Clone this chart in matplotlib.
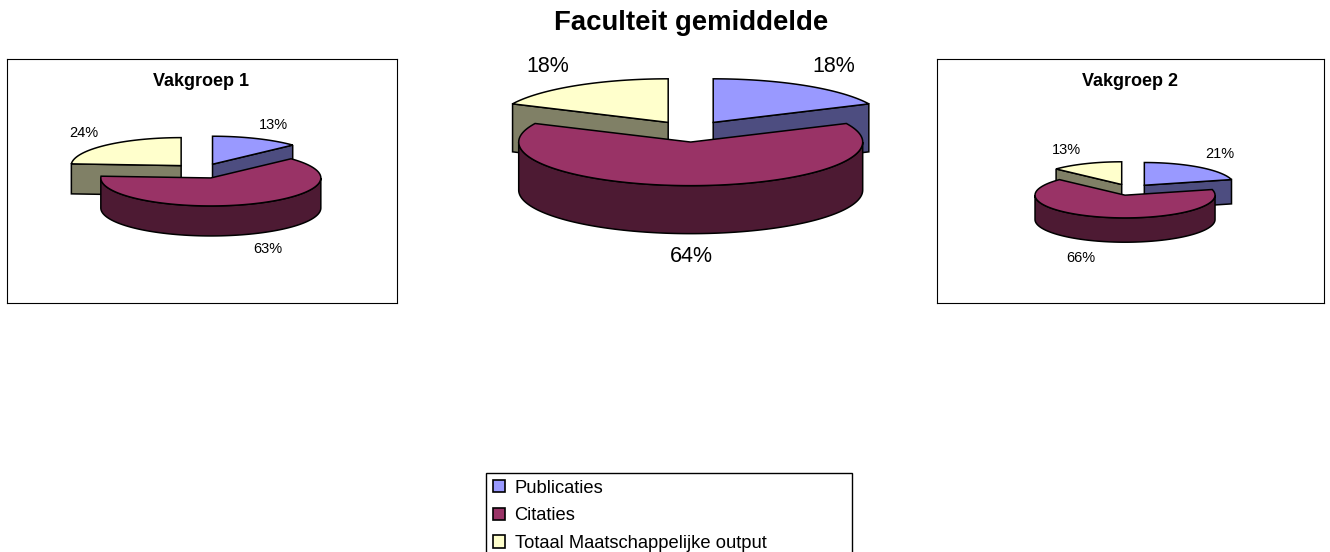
import numpy as np
import matplotlib
matplotlib.use("Agg")
import matplotlib.pyplot as plt
from matplotlib.patches import Patch, Polygon

plt.rcParams["font.family"] = ["Liberation Sans", "DejaVu Sans"]

W, H = 1330, 552

series = ["Publicaties", "Citaties", "Totaal Maatschappelijke output"]
colors = ["#9999FF", "#993366", "#FFFFCC"]
wall_colors = ["#4D4D80", "#4D1A33", "#808066"]

vakgroep1 = [13, 63, 24]
faculteit = [18, 64, 18]
vakgroep2 = [21, 66, 13]


# Map angles (clockwise from 12 o'clock) onto the flattened pie
def rim(cx, cy, r, ry, a0, a1):
    t = np.radians(np.linspace(a0, a1, max(int(abs(a1 - a0)), 2)))
    return np.column_stack([cx + r * np.sin(t), cy - ry * np.cos(t)])


def add_wall(ax, pts, depth, color):
    low = pts[::-1] + [0, depth]
    ax.add_patch(Polygon(np.vstack([pts, low]), closed=True, fc=color, ec="black", lw=1.1))


def draw_pie(ax, values, cx, cy, r, tilt, depth, explode):
    ry = r * tilt
    angles = np.concatenate([[0], np.cumsum(values)]) * 360 / sum(values)
    # Back slices first, so the big front slice lands on top of them
    order = np.argsort([-np.cos(np.radians((angles[i] + angles[i + 1]) / 2)) for i in range(len(values))])
    for i in order:
        a0, a1 = angles[i], angles[i + 1]
        mid = np.radians((a0 + a1) / 2)
        px = cx + explode * np.sin(mid)
        py = cy - explode * tilt * np.cos(mid)
        apex = np.array([[px, py]])
        edge = rim(px, py, r, ry, a0, a1)

        if np.sin(np.radians(a0)) < -1e-6:
            add_wall(ax, np.vstack([apex, edge[:1]]), depth, wall_colors[i])
        if np.sin(np.radians(a1)) > 1e-6:
            add_wall(ax, np.vstack([apex, edge[-1:]]), depth, wall_colors[i])
        lo, hi = max(a0, 90), min(a1, 270)
        if hi > lo:
            add_wall(ax, rim(px, py, r, ry, lo, hi), depth, wall_colors[i])

        ax.add_patch(Polygon(np.vstack([apex, edge]), closed=True, fc=colors[i], ec="black", lw=1.1))


def panel(x0, y0, x1, y1, framed):
    ax = fig.add_axes([x0 / W, 1 - y1 / H, (x1 - x0) / W, (y1 - y0) / H])
    ax.set_xlim(x0, x1)
    ax.set_ylim(y1, y0)
    ax.set_xticks([])
    ax.set_yticks([])
    for s in ax.spines.values():
        s.set_visible(framed)
        s.set_linewidth(0.8)
    if not framed:
        ax.patch.set_visible(False)
    return ax


def pct_labels(ax, values, positions, size):
    for v, (x, y) in zip(values, positions):
        ax.text(x, y, f"{v}%", ha="center", va="center", fontsize=size, color="black")


fig = plt.figure(figsize=(W / 100, H / 100), dpi=100)

ax1 = panel(7, 59, 397, 303, True)
draw_pie(ax1, vakgroep1, 201, 171, 110, 0.2545, 30, 29)
ax1.text(201, 81.5, "Vakgroep 1", ha="center", va="center", fontsize=13, fontweight="bold")
pct_labels(ax1, vakgroep1, [(273.5, 125), (268, 249), (84, 133)], 10.5)

ax2 = panel(470, 45, 900, 275, False)
draw_pie(ax2, faculteit, 690.7, 131.4, 172, 0.2535, 48, 42)
pct_labels(ax2, faculteit, [(834, 66), (691, 256), (548, 66)], 15.5)

ax3 = panel(937, 59, 1324, 303, True)
draw_pie(ax3, vakgroep2, 1130.6, 189.7, 90, 0.2525, 24.3, 22.4)
ax3.text(1130.5, 81.5, "Vakgroep 2", ha="center", va="center", fontsize=13, fontweight="bold")
pct_labels(ax3, vakgroep2, [(1220, 154), (1081, 258), (1066, 150)], 10.5)

fig.text(691 / W, 1 - 23 / H, "Faculteit gemiddelde", ha="center", va="center", fontsize=19.8, fontweight="bold")

handles = [Patch(facecolor=c, edgecolor="black", linewidth=1.2) for c in colors]
fig.legend(
    handles, series,
    loc="upper left",
    bbox_to_anchor=(486 / W, 1 - 473 / H, 366 / W, 0),
    mode="expand",
    borderaxespad=0,
    borderpad=0.36,
    fontsize=13.2,
    handlelength=0.65,
    handleheight=0.65,
    handletextpad=0.55,
    labelspacing=0.58,
    fancybox=False,
    framealpha=1,
    edgecolor="black",
)

fig.savefig("out.png", dpi=100)
